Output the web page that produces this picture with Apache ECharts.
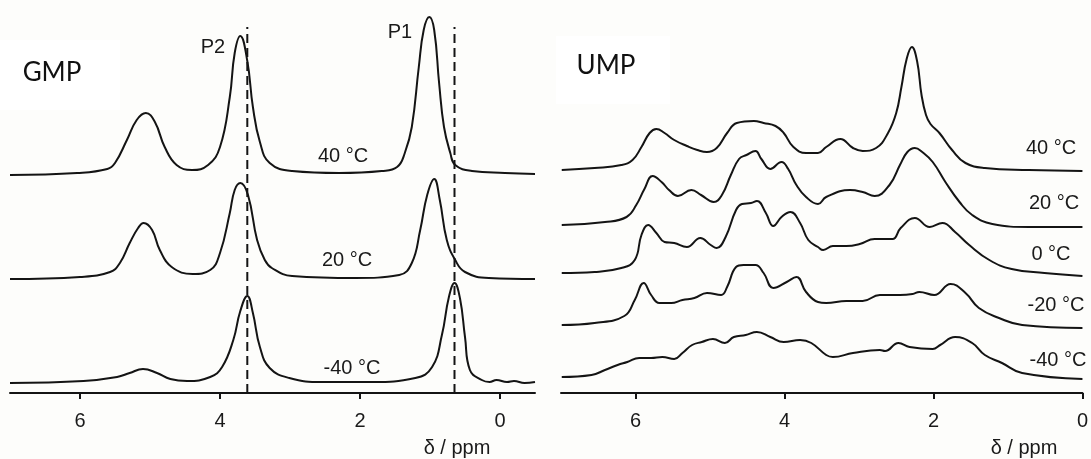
<!DOCTYPE html>
<html>
<head>
<meta charset="utf-8">
<script src="https://cdn.jsdelivr.net/npm/echarts@6/dist/echarts.min.js"></script>
<style>
  html, body { margin: 0; padding: 0; background: #fdfdfb; }
  #chart { width: 1091px; height: 459px; }
</style>
</head>
<body>
<div id="chart"></div>
<script>
// 1H NMR spectra, chemical shift (ppm) vs. intensity, stacked by temperature.

// ---- GMP panel ----
const gmpTemps = ['40 °C', '20 °C', '-40 °C'];
const gmpOffsets = [218, 114, 10];

const gmpPpm40 = [7.0, 6.04, 5.61, 5.5, 5.33, 5.19, 5.06, 4.93, 4.79, 4.62, 4.4, 4.17, 4.0, 3.86, 3.79, 3.71, 3.61, 3.53, 3.43, 3.29, 2.97, 2.3, 1.69, 1.47, 1.36, 1.26, 1.16, 1.09, 1.01, 0.94, 0.87, 0.8, 0.71, 0.64, 0.4, -0.07, -0.5];
const gmpInt40 = [0, 2, 6, 12, 35, 55, 62, 53, 28, 10, 5, 10, 28, 78, 122, 139, 114, 68, 33, 12, 4, 2, 4, 8, 22, 48, 108, 145, 158, 145, 92, 48, 22, 10, 4, 2, 1];

const gmpPpm20 = [7.0, 6.0, 5.57, 5.43, 5.29, 5.17, 5.09, 4.97, 4.86, 4.69, 4.39, 4.14, 4.0, 3.86, 3.79, 3.71, 3.6, 3.47, 3.36, 3.26, 2.97, 2.07, 1.44, 1.26, 1.14, 1.04, 0.94, 0.86, 0.76, 0.64, 0.5, 0.16, -0.5];
const gmpInt20 = [0, 2, 7, 16, 36, 51, 56, 49, 29, 12, 5, 9, 26, 66, 89, 96, 84, 39, 19, 11, 3, 1, 4, 16, 49, 84, 100, 79, 39, 19, 7, 1, 0];

const gmpPpmM40 = [7.0, 5.95, 5.47, 5.29, 5.1, 4.9, 4.71, 4.47, 4.14, 3.97, 3.81, 3.71, 3.61, 3.53, 3.43, 3.29, 3.01, 2.54, 1.83, 1.21, 0.97, 0.83, 0.73, 0.65, 0.57, 0.5, 0.43, 0.26, 0.15, 0.05, -0.1, -0.2, -0.35, -0.5];
const gmpIntM40 = [0, 2, 6, 10, 14, 10, 4, 2, 6, 16, 43, 72, 87, 70, 36, 15, 5, 1, 1, 5, 16, 48, 86, 100, 84, 46, 13, 3, 1, 3, 1, 2, 0, 1];

// P2 and P1 positions at -40 °C
const gmpMarks = [3.61, 0.65];
const gmpMarkNames = ['P2', 'P1'];

// ---- UMP panel ----
const umpTemps = ['40 °C', '20 °C', '0 °C', '-20 °C', '-40 °C'];
const umpOffsets = [222, 167, 118, 67, 15];

const umpPpm40 = [6.99, 6.55, 6.19, 6.04, 5.92, 5.81, 5.72, 5.61, 5.48, 5.31, 5.17, 5.04, 4.91, 4.77, 4.64, 4.41, 4.28, 4.12, 4.01, 3.88, 3.71, 3.55, 3.44, 3.25, 3.08, 2.95, 2.77, 2.61, 2.5, 2.43, 2.36, 2.29, 2.22, 2.16, 2.1, 2.04, 1.92, 1.75, 1.57, 1.31, 0.72, 0];
const umpInt40 = [1, 3, 6, 11, 24, 38, 42, 38, 31, 25, 21, 19, 23, 38, 48, 50, 48, 45, 38, 24, 18, 18, 24, 32, 23, 20, 23, 38, 58, 84, 112, 124, 110, 76, 56, 47, 38, 21, 8, 3, 1, 0];

const umpPpm20 = [6.99, 6.41, 6.12, 5.99, 5.88, 5.77, 5.65, 5.55, 5.43, 5.25, 5.12, 4.95, 4.84, 4.72, 4.61, 4.51, 4.39, 4.31, 4.19, 4.04, 3.95, 3.84, 3.71, 3.55, 3.44, 3.12, 2.95, 2.79, 2.59, 2.45, 2.35, 2.25, 2.15, 2.01, 1.84, 1.65, 1.48, 1.21, 0.72, 0];
const umpInt20 = [1, 4, 9, 21, 37, 50, 44, 36, 30, 36, 31, 24, 31, 51, 67, 71, 75, 67, 57, 64, 57, 41, 29, 22, 29, 36, 34, 30, 41, 61, 74, 78, 74, 64, 44, 24, 11, 2, -1, -1];

const umpPpm0 = [6.99, 6.55, 6.19, 6.01, 5.92, 5.83, 5.72, 5.61, 5.48, 5.31, 5.13, 4.99, 4.91, 4.79, 4.65, 4.57, 4.45, 4.37, 4.25, 4.15, 4.04, 3.92, 3.79, 3.68, 3.55, 3.48, 3.35, 3.17, 2.99, 2.79, 2.55, 2.44, 2.25, 2.05, 1.88, 1.71, 1.52, 1.25, 0.95, 0.51, 0];
const umpInt0 = [2, 3, 7, 15, 40, 50, 42, 33, 32, 28, 37, 30, 27, 38, 65, 71, 72, 74, 62, 49, 58, 63, 52, 35, 28, 25, 29, 29, 31, 36, 36, 47, 57, 48, 52, 43, 30, 15, 6, 2, -1];

const umpPpmM20 = [6.99, 6.55, 6.15, 6.01, 5.89, 5.79, 5.68, 5.52, 5.37, 5.21, 5.04, 4.85, 4.77, 4.65, 4.55, 4.39, 4.28, 4.15, 3.97, 3.84, 3.71, 3.55, 3.44, 3.17, 2.95, 2.72, 2.45, 2.28, 2.19, 1.99, 1.77, 1.57, 1.39, 1.12, 0.81, 0];
const umpIntM20 = [1, 3, 10, 26, 43, 31, 23, 23, 26, 28, 33, 31, 39, 59, 61, 61, 53, 38, 44, 49, 34, 24, 23, 25, 25, 31, 31, 32, 34, 31, 42, 33, 18, 8, 1, -2];

const umpPpmM40 = [6.99, 6.59, 6.41, 6.24, 6.11, 5.95, 5.79, 5.64, 5.48, 5.37, 5.24, 5.11, 4.96, 4.8, 4.68, 4.52, 4.37, 4.19, 4.01, 3.79, 3.64, 3.44, 3.35, 3.08, 2.72, 2.65, 2.47, 2.32, 2.01, 1.91, 1.71, 1.48, 1.31, 1.08, 0.81, 0];
const umpIntM40 = [1, 3, 8, 13, 16, 20, 20, 21, 19, 25, 33, 36, 39, 35, 41, 43, 46, 41, 36, 38, 35, 23, 21, 25, 28, 27, 35, 31, 29, 33, 41, 35, 23, 15, 5, -1];

const tickValues = [0, 2, 4, 6];
const axisTitle = 'δ / ppm';

const gmpTraces = [[gmpPpm40, gmpInt40], [gmpPpm20, gmpInt20], [gmpPpmM40, gmpIntM40]];
const umpTraces = [[umpPpm40, umpInt40], [umpPpm20, umpInt20], [umpPpm0, umpInt0], [umpPpmM20, umpIntM20], [umpPpmM40, umpIntM40]];

const INK = '#141414';
const FONT = '"Liberation Sans", Arial, sans-serif';

function traceData(ppm, inten, offset) {
  return ppm.map((p, i) => [p, inten[i] + offset]);
}

function xAxisFor(gridIndex, min, max) {
  return {
    type: 'value', gridIndex, min, max, inverse: true,
    axisLine: { show: true, onZero: false, lineStyle: { color: INK, width: 2 } },
    axisTick: { show: true, length: 6, lineStyle: { color: INK, width: 2 }, customValues: tickValues },
    axisLabel: { color: '#1a1a1a', fontSize: 20, fontFamily: FONT, margin: 18, customValues: tickValues },
    splitLine: { show: false }
  };
}

function yAxisFor(gridIndex) {
  return { type: 'value', gridIndex, min: 0, max: 380, show: false };
}

const series = [];
gmpTraces.forEach((t, k) => {
  series.push({
    type: 'line', xAxisIndex: 0, yAxisIndex: 0, name: 'GMP ' + gmpTemps[k],
    data: traceData(t[0], t[1], gmpOffsets[k]),
    smooth: 0.45, showSymbol: false, silent: true,
    lineStyle: { color: INK, width: 2 }
  });
});
gmpMarks.forEach((p, k) => {
  series.push({
    type: 'line', xAxisIndex: 0, yAxisIndex: 0, name: gmpMarkNames[k],
    data: [[p, 0], [p, 366]],
    showSymbol: false, silent: true,
    lineStyle: { color: INK, width: 2, type: [9, 5] }
  });
});
umpTraces.forEach((t, k) => {
  series.push({
    type: 'line', xAxisIndex: 1, yAxisIndex: 1, name: 'UMP ' + umpTemps[k],
    data: traceData(t[0], t[1], umpOffsets[k]),
    smooth: 0.45, showSymbol: false, silent: true,
    lineStyle: { color: INK, width: 2 }
  });
});

const textStyle = { fill: '#1a1a1a', fontSize: 20, fontFamily: FONT };
function label(text, x, y, extra) {
  return { type: 'text', x, y, style: Object.assign({ text, textAlign: 'center', textVerticalAlign: 'middle' }, textStyle, extra || {}) };
}

const gmpLabelPos = [[343, 156], [347, 260], [352, 368]];
const umpLabelPos = [[1051, 148], [1054, 203], [1051, 254], [1056, 305], [1058, 360]];

const graphic = [
  { type: 'rect', shape: { x: 0, y: 40, width: 120, height: 70 }, style: { fill: '#ffffff' }, z: -1 },
  { type: 'rect', shape: { x: 556, y: 36, width: 114, height: 68 }, style: { fill: '#ffffff' }, z: -1 },
  label('GMP', 52, 73, { fontSize: 26, fontFamily: 'Lato, "Open Sans", sans-serif', fill: '#111' }),
  label('UMP', 606, 66, { fontSize: 26, fontFamily: 'Lato, "Open Sans", sans-serif', fill: '#111' }),
  label(gmpMarkNames[0], 213, 47),
  label(gmpMarkNames[1], 400, 32),
  label(axisTitle, 457, 448),
  label(axisTitle, 1024, 448)
];
gmpTemps.forEach((t, k) => graphic.push(label(t, gmpLabelPos[k][0], gmpLabelPos[k][1])));
umpTemps.forEach((t, k) => graphic.push(label(t, umpLabelPos[k][0], umpLabelPos[k][1])));

const chart = echarts.init(document.getElementById('chart'), null, { renderer: 'canvas' });
chart.setOption({
  backgroundColor: '#fdfdfb',
  animation: false,
  grid: [
    { left: 10, right: 556, top: 13, bottom: 66 },
    { left: 561, right: 5, top: 13, bottom: 66 }
  ],
  xAxis: [xAxisFor(0, -0.5, 7), xAxisFor(1, 0, 7)],
  yAxis: [yAxisFor(0), yAxisFor(1)],
  series,
  graphic
});
</script>
</body>
</html>
